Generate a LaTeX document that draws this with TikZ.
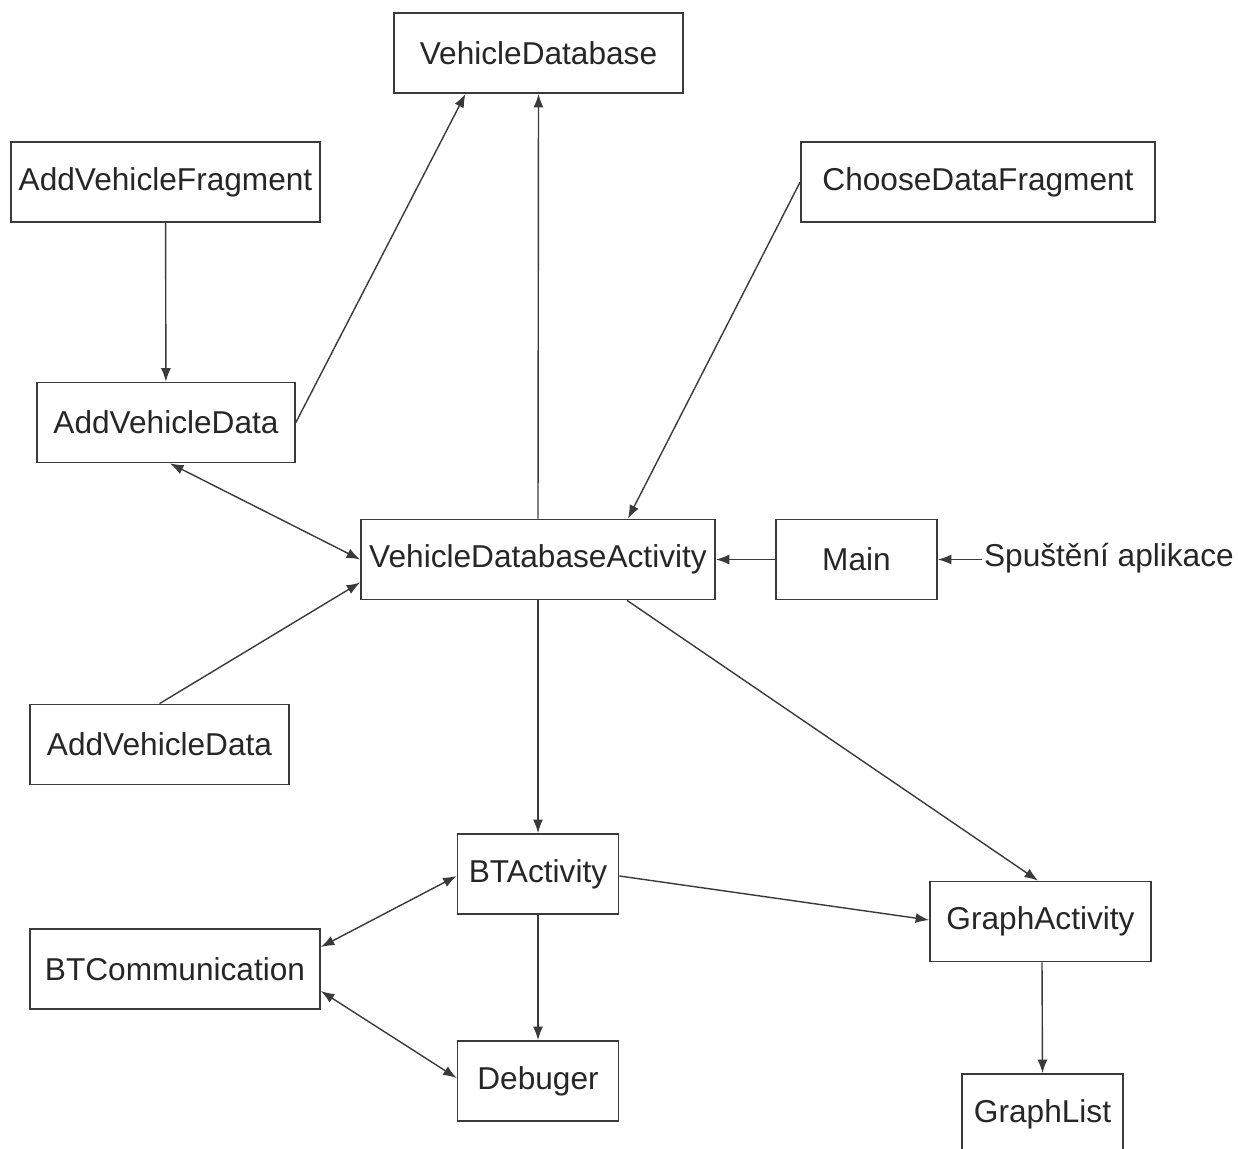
\documentclass[tikz,border=0pt]{standalone}
\usepackage{fontspec}
\setmainfont{Liberation Sans}
\usetikzlibrary{positioning}
\usetikzlibrary{arrows.meta}
\definecolor{linegray}{HTML}{3A3A3A}
\tikzset{
    every node/.append style={
        font=\fontsize{18}{21}\selectfont,
        text=black!85
    },
    class/.style={
        draw=linegray,
        line width=1pt,
        minimum height=1.6cm,
        inner sep=2pt
    },
    link/.style={
        draw=linegray,
        line width=0.8pt,
        -{Latex[length=2.7mm,width=2mm]}
    },
    bilink/.style={
        link,
        {Latex[length=2.7mm,width=2mm]}-{Latex[length=2.7mm,width=2mm]}
    }
}

\begin{document}
\begin{tikzpicture}[x=0.02cm, y=-0.02cm]
            \useasboundingbox (0,0) rectangle (1238,1149);

            \node[class, minimum width=5.78cm] (vdb) at (538.5,53) {VehicleDatabase};
            \node[class, minimum width=6.18cm] (addfrag) at (165.5,182) {AddVehicleFragment};
            \node[class, minimum width=7.08cm] (choose) at (978,182) {ChooseDataFragment};
            \node[class, minimum width=5.16cm] (adddata) at (166,422.5) {AddVehicleData};
            \node[class, minimum width=7.08cm] (vda) at (538,559.5) {VehicleDatabaseActivity};
            \node[class, minimum width=3.22cm] (main) at (856.5,559.5) {Main};
            \node[inner sep=1pt, anchor=west] (start) at (982,558) {Spuštění aplikace};
            \node[class, minimum width=5.18cm] (adddata2) at (159.5,744.5) {AddVehicleData};
            \node[class, minimum width=3.22cm] (bt) at (538,874) {BTActivity};
            \node[class, minimum width=5.8cm] (btcomm) at (175,969) {BTCommunication};
            \node[class, minimum width=4.42cm] (graph) at (1040.5,921.5) {GraphActivity};
            \node[class, minimum width=3.22cm] (debug) at (538,1081) {Debuger};
            \node[class, minimum width=3.22cm] (glist) at (1042.5,1114) {GraphList};

            \draw[link] (addfrag) -- (adddata);
            \draw[link] (adddata.east) -- ([xshift=-1.46cm]vdb.south);
            \draw[link] (vda.north) -- (vdb.south);
            \draw[link] (choose.west) -- ([xshift=1.8cm]vda.north);
            \draw[bilink] ([xshift=0.08cm]adddata.south) -- (vda.west);
            \draw[link] (adddata2.north) -- ([yshift=-0.46cm]vda.west);
            \draw[link] (main) -- (vda);
            \draw[link] (start.west |- main.east) -- (main.east);
            \draw[link] (vda.south) -- (bt.north);
            \draw[link] ([xshift=1.78cm]vda.south) -- ([xshift=-0.05cm]graph.north);
            \draw[link] ([yshift=-0.04cm]bt.east) -- ([yshift=0.03cm]graph.west);
            \draw[bilink] ([yshift=-0.04cm]bt.west) -- ([yshift=0.44cm]btcomm.east);
            \draw[bilink] ([yshift=-0.44cm]btcomm.east) -- ([yshift=0.06cm]debug.west);
            \draw[link] (bt) -- (debug);
            \draw[link] ([xshift=0.03cm]graph.south) -- (glist.north);
        \end{tikzpicture}
\end{document}
